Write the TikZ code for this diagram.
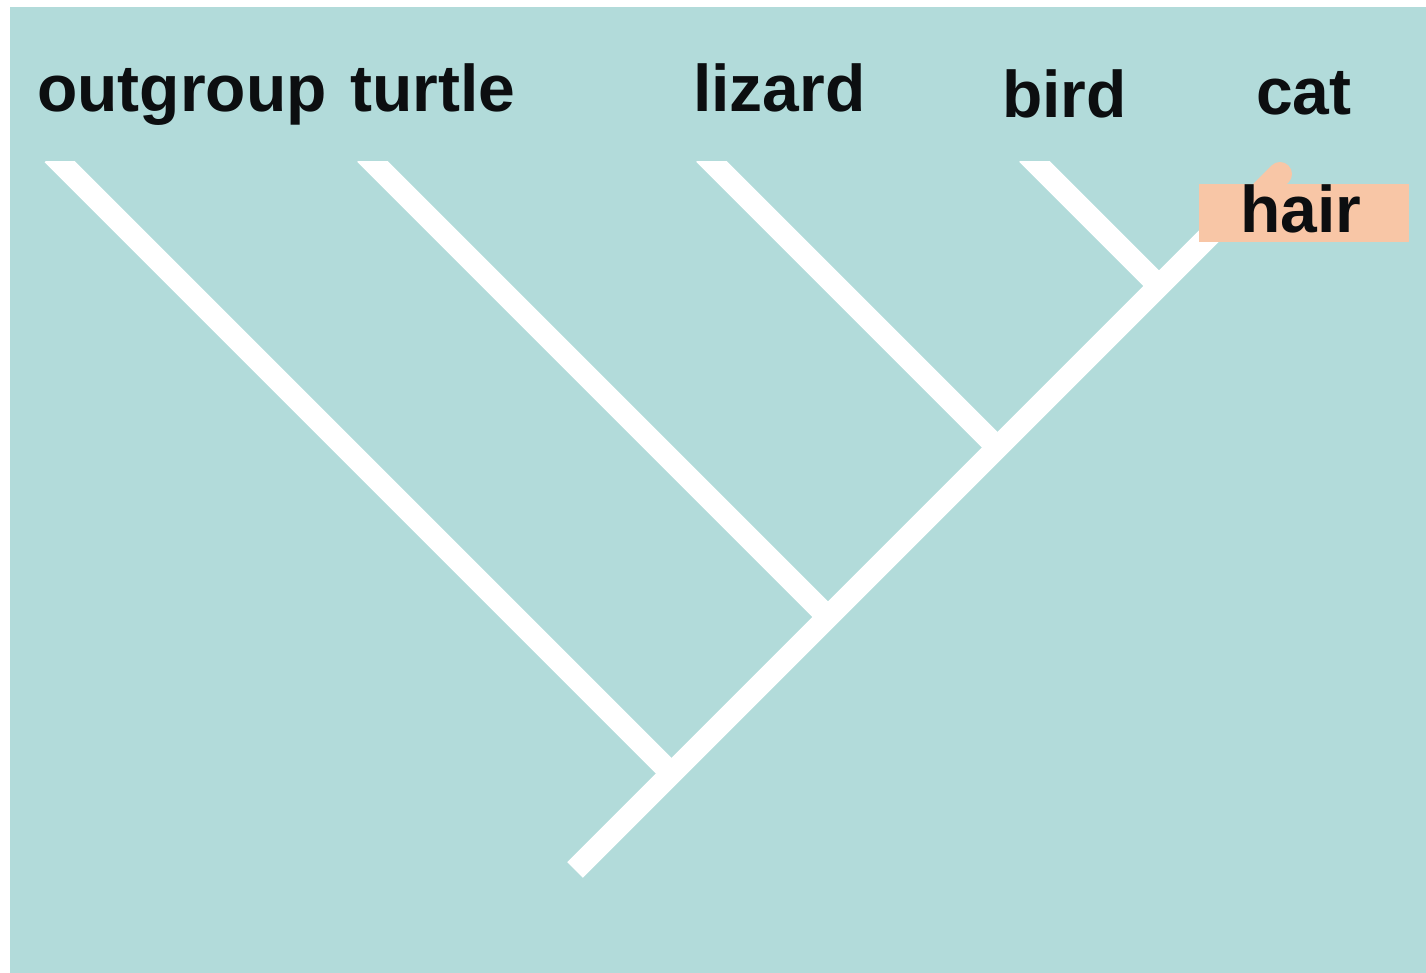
\documentclass[tikz,border=0pt]{standalone}
\usepackage{fontspec}
\setmainfont{Liberation Sans}
\definecolor{bgteal}{RGB}{178,219,218}
\definecolor{hairfill}{RGB}{248,198,166}
\definecolor{txt}{RGB}{12,14,16}
\tikzset{
  taxon/.style={anchor=base west, inner sep=0pt, font=\fontsize{66}{66}\selectfont\bfseries, text=txt},
  branch/.style={draw=white, line width=22pt, line cap=butt},
  charbox/.style={fill=hairfill, inner sep=0pt, minimum width=210pt, minimum height=58pt, anchor=north west}
}
\begin{document}
\begin{tikzpicture}[x=1pt,y=-1pt]
\useasboundingbox (0,0) rectangle (1426,973);
\fill[white] (0,0) rectangle (1426,973);
\fill[bgteal] (10,7) rectangle (1426,973);

% labels
\node[taxon] (outgroup) at (37,112) {outgroup};
\node[taxon] (turtle) at (350,112) {turtle};
\node[taxon] (lizard) at (693,112) {lizard};
\node[taxon] (bird) at (1002,118) {bird};
\node[taxon] (cat) at (1256,115) {cat};

% tips (top of each branch) and junctions on the trunk (x+y=1445)
\coordinate (tOut) at (52.5,154.5);
\coordinate (tTur) at (365,154);
\coordinate (tLiz) at (704,154);
\coordinate (tBir) at (1027,154);
\coordinate (tCat) at (1240,205);
\coordinate (jOut) at (671.5,773.5);
\coordinate (jTur) at (828,617);
\coordinate (jLiz) at (997.5,447.5);
\coordinate (jBir) at (1159,286);
\coordinate (root) at (575,870);

\begin{scope}
  \clip (0,162) rectangle (1426,973);
  \draw[branch] (root) -- (tCat);
  \draw[branch] (jOut) -- (tOut);
  \draw[branch] (jTur) -- (tTur);
  \draw[branch] (jLiz) -- (tLiz);
  \draw[branch] (jBir) -- (tBir);
\end{scope}

% tip of the cat branch under the character label
\coordinate (hairTip) at (1280,174);
\coordinate (hairBase) at (1262,192);
\draw[hairfill, line width=24pt, line cap=round] (hairBase) -- (hairTip);

\node[charbox] (hairbox) at (1199,184) {};
\node[taxon, anchor=base] (hair) at (1301,233) {hair};
\end{tikzpicture}
\end{document}
